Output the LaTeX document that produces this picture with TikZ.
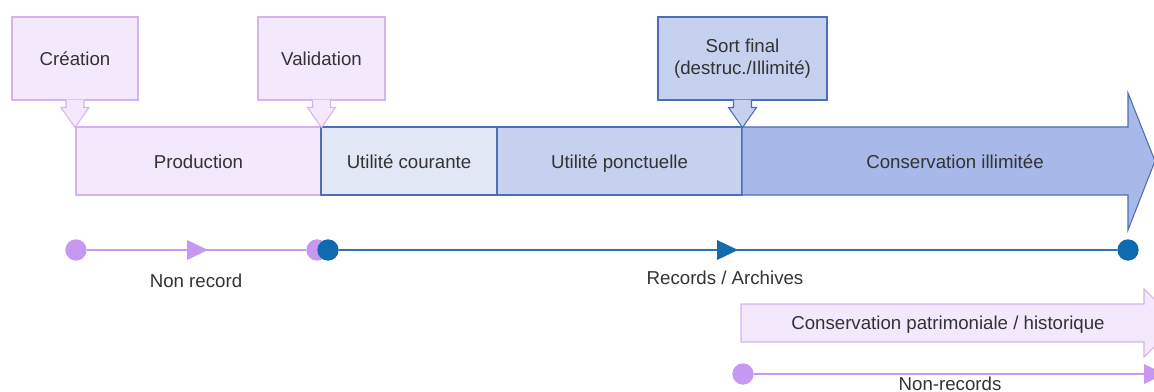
\documentclass[tikz,border=0pt]{standalone}
\usepackage{fontspec}
\setmainfont{Liberation Sans}
\usetikzlibrary{calc}
\definecolor{lavfill}{HTML}{F4E9FC}
\definecolor{lavline}{HTML}{D4B4EE}
\definecolor{lavdot}{HTML}{C798F2}
\definecolor{bluA}{HTML}{E2E7F6}
\definecolor{bluB}{HTML}{C6D0EF}
\definecolor{bluC}{HTML}{A7B8E9}
\definecolor{bluline}{HTML}{4E6DB4}
\definecolor{dotblue}{HTML}{0F6BAF}
\definecolor{lineblue}{HTML}{2F73B2}
\definecolor{txt}{HTML}{333333}
\begin{document}
\begin{tikzpicture}[x=0.75pt,y=-0.75pt,
  every node/.style={font=\fontsize{14}{16.5}\selectfont, text=txt},
  lavbox/.style={draw=lavline, fill=lavfill, line width=0.8pt, inner sep=0pt, minimum height=62.25pt},
  blubox/.style={draw=bluline, fill=#1, line width=0.8pt, inner sep=0pt},
  bar/.style={minimum height=51pt, text height=12pt, text depth=0.5pt},
  lavshape/.style={draw=lavline, fill=lavfill, line width=0.8pt, line join=miter},
  blushape/.style={draw=bluline, fill=#1, line width=0.8pt, line join=miter},
  lavdotst/.style={circle, fill=lavdot, inner sep=0pt, minimum size=16pt},
  bludotst/.style={circle, fill=dotblue, inner sep=0pt, minimum size=16pt},
  lavconn/.style={draw=lavdot, line width=1.2pt},
  bluconn/.style={draw=lineblue, line width=1.2pt},
  lbl/.style={inner sep=0pt, text height=12pt, text depth=0.5pt}
]
\useasboundingbox (0,0) rectangle (1154,392);
\clip (0,0) rectangle (1154,392);

% phase bars
\node[lavbox, bar, minimum width=183.75pt] (prod) at (198.5,161) {Production};
\node[blubox=bluA, bar, minimum width=132pt] (uc) at (409,161) {Utilité courante};
\node[blubox=bluB, bar, minimum width=183.75pt] (up) at (619.5,161) {Utilité ponctuelle};
\path[blushape=bluC] (742,127) -- (1128,127) -- (1128,93) -- (1155,161) -- (1128,230) -- (1128,195) -- (742,195) -- cycle;
\node[lbl] (ci) at (955,161) {Conservation illimitée};

% event boxes with pointers
\node[lavbox, minimum width=94.5pt] (crea) at (75,58.5) {Création};
\node[lavbox, minimum width=95.25pt] (vali) at (321.5,58.5) {Validation};
\node[blubox=bluB, minimum height=62.25pt, minimum width=126.75pt, align=center] (sort) at (742.5,58.5) {Sort final\\(destruc./Illimité)};

\begin{scope}[shift={(crea.south)}]
  \path[lavshape] (-9,-1) -- (-9,7) -- (-14,7) -- (0,27) -- (14,7) -- (9,7) -- (9,-1);
\end{scope}
\begin{scope}[shift={(vali.south)}]
  \path[lavshape] (-9,-1) -- (-9,7) -- (-14,7) -- (0,27) -- (14,7) -- (9,7) -- (9,-1);
\end{scope}
\begin{scope}[shift={(sort.south)}]
  \path[blushape=bluB] (-9,-1) -- (-9,7) -- (-14,7) -- (0,27) -- (14,7) -- (9,7) -- (9,-1);
\end{scope}

% records timeline
\node[lavdotst] (d1) at (76,250) {};
\node[lavdotst] (d2) at (317,250) {};
\node[bludotst] (d3) at (328,250) {};
\node[bludotst] (d4) at (1128,250) {};
\draw[lavconn] (d1) -- (d2);
\draw[bluconn] (d3) -- (d4);
\fill[lavdot] (187,240) -- (208,250) -- (187,260) -- cycle;
\fill[dotblue!85!lineblue] (717,240) -- (738,250) -- (717,260) -- cycle;
\node[lbl] (nr) at (196,280) {Non record};
\node[lbl] (ra) at (725,277) {Records / Archives};

% heritage conservation
\path[lavshape] (741,304) -- (1144,304) -- (1144,289) -- (1178,323) -- (1144,357) -- (1144,342) -- (741,342) -- cycle;
\node[lbl] (cp) at (948,322) {Conservation patrimoniale / historique};

% non-records line
\node[lavdotst] (d5) at (743,374) {};
\coordinate (e5) at (1170,374);
\draw[lavconn] (d5) -- (e5);
\fill[lavdot] (1144,364) -- (1165,374) -- (1144,384) -- cycle;
\node[inner sep=0pt, anchor=base] (nrs) at (950,390) {Non-records};
\end{tikzpicture}
\end{document}
